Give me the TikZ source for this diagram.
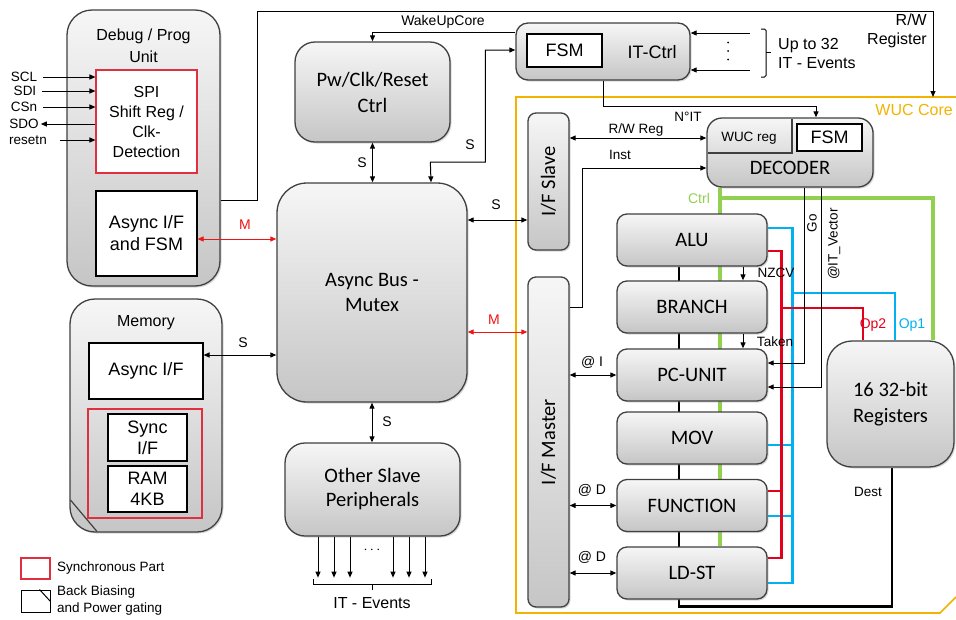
\documentclass[tikz,border=0pt]{standalone}
\usepackage{fontspec}
\setmainfont{Liberation Sans}
\newfontfamily\carl{Carlito}
\usetikzlibrary{arrows.meta,calc,shadows}
\pgfdeclarelayer{bg}
\pgfsetlayers{bg,main}
\definecolor{sred}{RGB}{226,0,26}
\definecolor{ared}{RGB}{240,20,20}
\definecolor{sblue}{RGB}{0,176,240}
\definecolor{sgreen}{RGB}{146,208,80}
\definecolor{sorange}{RGB}{242,180,0}
\definecolor{bord}{RGB}{64,64,64}
\definecolor{boxred}{RGB}{224,48,64}
\newcommand\fsz[2]{\fontsize{#1}{#2}\selectfont}
\tikzset{
 gbox/.style={draw=bord, line width=1.3pt, top color=gray!7, bottom color=gray!45, align=center, inner sep=0pt,
   font=\carl\fsz{20.5}{25}, drop shadow={shadow xshift=1.5pt, shadow yshift=-1.5pt, opacity=0.3}},
 core/.style={gbox, rounded corners=10pt, minimum width=150pt, minimum height=52pt},
 wbox/.style={draw=black, line width=1.1pt, fill=white, align=center, inner sep=0pt},
 rbox/.style={draw=boxred, line width=1.1pt, align=center, inner sep=0pt},
 lbl/.style={inner sep=0pt, font=\fsz{13.5}{17}},
 slbl/.style={inner sep=0pt, font=\fsz{14}{17}},
 conn/.style={draw=black, line width=1pt},
 arr/.style={conn, -{Triangle[length=6pt,width=5pt]}},
 arr2/.style={conn, {Triangle[length=6pt,width=5pt]}-{Triangle[length=6pt,width=5pt]}},
 blk/.style={draw=black, line width=2.6pt},
 grn/.style={draw=sgreen, line width=4pt},
 blu/.style={draw=sblue, line width=2.6pt},
 rdl/.style={draw=sred, line width=2.6pt},
}
\begin{document}
\begin{tikzpicture}[x=1pt,y=-1pt]
\useasboundingbox (0,0) rectangle (956,619);

% ---------- Debug / Prog unit ----------
\node[gbox, rounded corners=25pt, minimum width=153pt, minimum height=276pt] (debug) at (143.5,148) {};
\node[font=\fsz{16}{22}, align=center] (dbgt) at (143.5,46) {Debug / Prog\\Unit};
\node[rbox, fill=white, minimum width=101pt, minimum height=103pt, font=\fsz{16}{20}] (spi) at (146.5,121.5) {SPI\\Shift Reg /\\Clk-\\Detection};
\node[wbox, minimum width=101pt, minimum height=85pt, font=\fsz{18}{22}] (dbgaf) at (146.5,233.5) {Async I/F\\and FSM};

\node[lbl] (scl) at (24,77) {SCL};
\node[lbl] (sdi) at (25,91) {SDI};
\node[lbl] (csn) at (24,107) {CSn};
\node[lbl] (sdo) at (24,124) {SDO};
\node[lbl] (rst) at (28,140) {resetn};
\draw[arr] ([xshift=6pt]scl.east) -- (scl.east -| spi.west);
\draw[arr] ([xshift=6pt]sdi.east) -- (sdi.east -| spi.west);
\draw[arr] ([xshift=6pt]csn.east) -- (csn.east -| spi.west);
\draw[arr] (sdo.east -| spi.west) -- ([xshift=2pt]sdo.east);
\draw[arr] ([xshift=13pt]rst.east) -- (rst.east -| spi.west);

% ---------- Memory ----------
\node[gbox, rounded corners=25pt, minimum width=152pt, minimum height=233pt] (mem) at (146,415.5) {};
\draw[draw=bord, line width=1.2pt] (70.5,500) -- (97,531.5);
\node[font=\fsz{16}{19}] (memt) at (146,323) {Memory};
\node[wbox, minimum width=114pt, minimum height=56pt, font=\fsz{18}{22}] (memaf) at (146,371) {Async I/F};
\node[rbox, minimum width=114pt, minimum height=109pt] (memred) at (145,463.5) {};
\node[wbox, minimum width=79pt, minimum height=47pt, font=\fsz{18}{21}] (sync) at (147.5,437.5) {Sync\\I/F};
\node[wbox, minimum width=79pt, minimum height=46pt, font=\fsz{18}{21}] (ram) at (147.5,489) {RAM\\4KB};

% ---------- Legend ----------
\node[rbox, minimum width=29pt, minimum height=21pt] (lgr) at (35.5,568.5) {};
\node[lbl, anchor=west] (lgrt) at (57,568) {Synchronous Part};
\node[draw=black, line width=1pt, minimum width=29pt, minimum height=22pt, inner sep=0pt] (lgb) at (35.5,601) {};
\draw[conn] ([xshift=-11pt]lgb.north east) -- ([yshift=-12pt]lgb.north east);
\node[lbl, anchor=west, align=left, font=\fsz{13.5}{17}] (lgbt) at (57,600.5) {Back Biasing\\and Power gating};

% ---------- Central blocks ----------
\node[gbox, rounded corners=20pt, minimum width=155pt, minimum height=100pt, font=\carl\fsz{20.5}{26}] (pw) at (372.5,92) {Pw/Clk/Reset\\Ctrl};
\node[gbox, rounded corners=30pt, minimum width=190pt, minimum height=219pt] (bus) at (372,292.5) {Async Bus -\\Mutex};
\node[gbox, rounded corners=20pt, minimum width=175pt, minimum height=93pt, font=\carl\fsz{20.5}{24}] (osp) at (372.5,489.5) {Other Slave\\Peripherals};

% ---------- IT-Ctrl ----------
\node[gbox, rounded corners=12pt, minimum width=174pt, minimum height=57pt] (itc) at (603,51.5) {};
\node[wbox, minimum width=75pt, minimum height=33pt, font=\fsz{18}{20}] (itfsm) at (564.5,50.5) {FSM};
\node[font=\fsz{18}{20}, inner sep=0pt] (itct) at (652,52) {IT-Ctrl};
\coordinate (ev1) at (750,33);
\coordinate (ev2) at (750,70);
\draw[arr] (ev1) -- (ev1 -| itc.east);
\draw[arr] (ev2) -- (ev2 -| itc.east);
\fill (728,42.5) circle (1pt) (728,51) circle (1pt) (728,59.5) circle (1pt);
\draw[conn, rounded corners=1.5pt] (761,29) -- (766,29) -- (766,77) -- (761,77);
\draw[conn] (766,52) -- (771,52);
\node[anchor=west, align=left, font=\fsz{16}{19}, inner sep=0pt] (upto) at (778,53.5) {Up to 32\\IT - Events};

% ---------- WUC core frame ----------
\draw[draw=sorange, line width=1.6pt] (956,97) -- (516,97) -- (516,613) -- (940,613) -- (956,597);
\node[anchor=east, text=sorange, font=\fsz{16}{19}, inner sep=0pt] (wuct) at (953,110) {WUC Core};

% ---------- Decoder ----------
\node[gbox, rounded corners=15pt, minimum width=166pt, minimum height=69pt] (dec) at (790,152.5) {};
\draw[draw=bord, line width=1.1pt] (707.5,153) -- (792,153) -- (792,118.5);
\node[wbox, minimum width=65pt, minimum height=27pt, font=\fsz{18}{20}] (decfsm) at (829.5,137.5) {FSM};
\node[font=\fsz{13.5}{16}, inner sep=0pt] (wucreg) at (749,138) {WUC reg};
\node[font=\carl\fsz{20.5}{22}, inner sep=0pt] (dect) at (790,168) {DECODER};

% ---------- I/F slave / master ----------
\node[gbox, rounded corners=8pt, minimum width=41pt, minimum height=137pt] (ifs) at (548.5,181.5) {};
\node[rotate=90, font=\carl\fsz{20.5}{22}, inner sep=0pt] (ifst) at (ifs) {I/F Slave};
\node[gbox, rounded corners=8pt, minimum width=41pt, minimum height=330pt] (ifm) at (548.5,442) {};
\node[rotate=90, font=\carl\fsz{20.5}{22}, inner sep=0pt] (ifmt) at (ifm) {I/F Master};

% ---------- Core units ----------
\node[core] (alu) at (692,240) {ALU};
\node[core] (branch) at (692,307) {BRANCH};
\node[core] (pcu) at (692,375) {PC-UNIT};
\node[core] (mov) at (692,438) {MOV};
\node[core] (fun) at (692,505.5) {FUNCTION};
\node[core] (ldst) at (692,573) {LD-ST};

\node[gbox, rounded corners=25pt, minimum width=127pt, minimum height=126pt, font=\carl\fsz{20.5}{26}] (regs) at (890.5,404) {16 32-bit\\Registers};

% ---------- background wiring ----------
\begin{pgfonlayer}{bg}
\fill[white] (0,0) rectangle (956,619);
\draw[grn] ([xshift=-70pt]dec.south) -- ([xshift=28pt]ldst.north);
\draw[grn] ([xshift=-70pt,yshift=-10pt]dec.south) -| ([xshift=42.5pt]regs.north);
\draw[blk] ([xshift=-13pt]alu.south) -- ([xshift=-13pt,yshift=-7pt]ldst.south) -| ([xshift=1.5pt]regs.south);
\end{pgfonlayer}

\node[text=sgreen, font=\fsz{14}{17}, inner sep=0pt] (ctrl) at (699,198) {Ctrl};
\node[lbl] (dest) at (868,492) {Dest};

% Op1 (blue)
\coordinate (op1j) at (792,293);
\draw[blu] ([yshift=12pt]alu.east) -- ++(25,0) |- ([yshift=-10pt]ldst.east);
\draw[blu] ([yshift=-7pt]mov.east) -- ++(25,0);
\draw[blu] ([yshift=-10.5pt]fun.east) -- ++(25,0);
\draw[blu] (op1j) -| ([xshift=4.5pt]regs.north);
\node[text=sblue, font=\fsz{14}{17}, inner sep=0pt] (op1) at (912,325) {Op1};
% Op2 (red)
\coordinate (op2j) at (781,308);
\draw[rdl] ([yshift=-11pt]alu.east) -- ++(14,0) |- ([yshift=15pt]ldst.east);
\draw[rdl] ([yshift=14.5pt]fun.east) -- ++(14,0);
\draw[rdl] (op2j) -| ([xshift=-27.5pt]regs.north);
\node[text=sred, font=\fsz{14}{17}, inner sep=0pt] (op2) at (873,325) {Op2};

% Go / IT_Vector
\draw[arr] ([xshift=14pt]dec.south) |- ([yshift=12pt]pcu.east);
\draw[arr] ([xshift=31pt]dec.south) |- ([yshift=-12pt]pcu.east);
\node[rotate=90, lbl] (go) at (812,223) {Go};
\node[rotate=90, lbl] (itv) at (834,244) {@IT\_Vector};

% NZCV / Taken
\draw[arr] ([xshift=51pt]alu.south) -- ([xshift=51pt]branch.north);
\draw[arr] ([xshift=51pt]branch.south) -- ([xshift=51pt]pcu.north);
\node[lbl] (nzcv) at (776,273) {NZCV};
\node[lbl] (taken) at (775,342) {Taken};

% I/F master to units
\draw[arr2] (pcu.west -| ifm.east) -- (pcu.west);
\draw[arr2] (fun.west -| ifm.east) -- (fun.west);
\draw[arr2] (ldst.west -| ifm.east) -- (ldst.west);
\node[slbl] (ai) at (592,362) {@ I};
\node[slbl] (ad1) at (592,490) {@ D};
\node[slbl] (ad2) at (592,557) {@ D};

% R/W Reg and Inst
\draw[arr2] ([yshift=43.5pt]ifs.east) -- ([yshift=43.5pt]ifs.east -| dec.west);
\node[lbl] (rwreg) at (636,130) {R/W Reg};
\draw[arr] ([yshift=135pt]ifm.east) -- ++(13,0) |- ([yshift=-15.5pt]dec.west);
\node[lbl] (inst) at (620,155) {Inst};

% N°IT
\draw[arr] (itc.south) |- ([xshift=26pt,yshift=11pt]dec.north) -- ([xshift=26pt]dec.north);
\node[lbl] (nit) at (688,117) {N°IT};

% WakeUpCore
\draw[arr] ([yshift=19.5pt]itc.west) -| (pw.north);
\node[lbl, font=\fsz{14}{17}] (wuc) at (443,22) {WakeUpCore};

% Pw <-> bus
\draw[arr2] (pw.south) -- (pw.south |- bus.north);
\node[slbl] (s1) at (362,163) {S};

% IT-Ctrl <-> bus
\draw[arr2] ([yshift=1.5pt]itc.west) -- ++(-30,0) -- ++(0,112) -- ++(-55,0) -- ([xshift=59pt]bus.north);
\node[slbl] (s2) at (470,145) {S};

% bus <-> I/F slave
\draw[arr2] ([yshift=72.5pt]bus.east) -- ([yshift=72.5pt]bus.east -| ifs.west);
\node[slbl] (s3) at (496,205) {S};
% bus <-> I/F master
\draw[arr2, draw=ared, color=ared] ([yshift=-39.5pt]bus.east) -- ([yshift=-39.5pt]bus.east -| ifm.west);
\node[slbl, text=ared] (m2) at (494,320) {M};
% debug <-> bus
\draw[arr2, draw=ared, color=ared] ([yshift=-5.5pt]dbgaf.east) -- ([yshift=-5.5pt]dbgaf.east -| bus.west);
\node[slbl, text=ared] (m1) at (245,225) {M};
% memory <-> bus
\draw[arr2] ([yshift=16pt]memaf.east) -- ([yshift=16pt]memaf.east -| bus.west);
\node[slbl] (s4) at (243,343) {S};
% bus <-> other peripherals
\draw[arr2] (bus.south) -- (bus.south |- osp.north);
\node[slbl] (s5) at (387,422) {S};

% IT events from peripherals
\foreach \dx in {-54.5,-38.5,-22.5,20.5,36.5,52.5} {
  \draw[arr] ([xshift=\dx pt]osp.south) -- ++(0,41);
}
\node[lbl] (dots) at (372,550) {$\cdots$};
\draw[conn] (313,579) -- (313,584) -- (431,584) -- (431,579);
\draw[conn] (372,584) -- (372,590);
\node[font=\fsz{16}{19}, inner sep=0pt] (itev) at (372,603) {IT - Events};

% Debug -> R/W Register
\coordinate (rwin) at (933,97);
\draw[arr] ([yshift=-52pt]debug.east) -- (257,200) -- (257,11) -- (933,11) -- (rwin);
\node[anchor=east, align=right, font=\fsz{16}{19}, inner sep=0pt] (rwr) at (927,30.5) {R/W\\Register};
\end{tikzpicture}
\end{document}
